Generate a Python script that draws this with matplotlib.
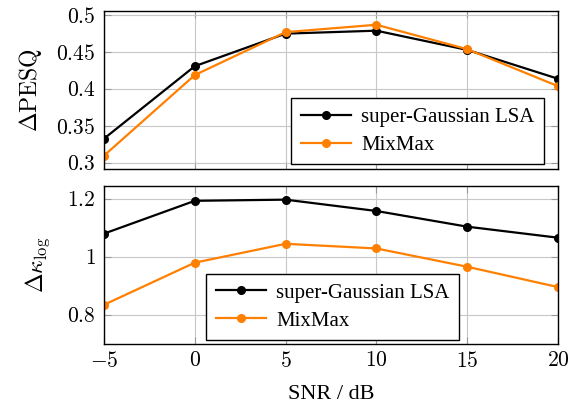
import matplotlib
matplotlib.use("Agg")
import matplotlib.pyplot as plt

snr = [-5, 0, 5, 10, 15, 20]
pesq_lsa = [0.333, 0.431, 0.475, 0.479, 0.453, 0.414]
pesq_mixmax = [0.310, 0.419, 0.477, 0.487, 0.454, 0.404]
kappa_lsa = [1.080, 1.193, 1.197, 1.158, 1.104, 1.066]
kappa_mixmax = [0.835, 0.980, 1.045, 1.029, 0.966, 0.896]
labels = ["super-Gaussian LSA", "MixMax"]

plt.rcParams["mathtext.fontset"] = "cm"
plt.rcParams["font.family"] = ["Liberation Serif", "DejaVu Serif"]

BLACK = "#000000"
ORANGE = "#ff8000"

fig = plt.figure(figsize=(5.79, 4.07), dpi=100)
ax1 = fig.add_axes([0.1796, 0.5848, 0.7841, 0.3889])
ax2 = fig.add_axes([0.1796, 0.1548, 0.7841, 0.3889])


def style(ax, yticks, ylim):
    ax.set_xlim(-5, 20)
    ax.set_ylim(*ylim)
    ax.set_xticks(snr)
    ax.set_yticks(yticks)
    ax.grid(True, color="#c8c8c8", linewidth=0.8)
    ax.set_axisbelow(True)
    ax.tick_params(direction="in", length=5, color="#999999", top=True,
                   right=True, labelsize=15.5, pad=6)
    for s in ax.spines.values():
        s.set_linewidth(1.0)


for ax, a, b in [(ax1, pesq_lsa, pesq_mixmax), (ax2, kappa_lsa, kappa_mixmax)]:
    ax.plot(snr, a, color=BLACK, lw=1.6, marker="o", ms=5.5, label=labels[0])
    ax.plot(snr, b, color=ORANGE, lw=1.6, marker="o", ms=5.5, label=labels[1])

style(ax1, [0.3, 0.35, 0.4, 0.45, 0.5], (0.292, 0.506))
ax1.set_yticklabels([f"${v}$" for v in ["0.3", "0.35", "0.4", "0.45", "0.5"]])
ax1.tick_params(labelbottom=False)
ax1.set_ylabel(r"$\Delta\mathrm{PESQ}$", fontsize=17, labelpad=9)

style(ax2, [0.8, 1.0, 1.2], (0.70, 1.245))
ax2.set_yticklabels(["$0.8$", "$1$", "$1.2$"])
ax2.set_xticklabels([f"${v}$" for v in ["-5", "0", "5", "10", "15", "20"]])
ax2.set_ylabel(r"$\Delta\kappa_{\log}$", fontsize=17, labelpad=11)
ax2.set_xlabel("SNR / dB", fontsize=16, labelpad=9)

for ax, loc, anchor in [(ax1, "lower right", (0.969, 0.03)),
                        (ax2, "lower left", (0.225, 0.025))]:
    leg = ax.legend(loc=loc, bbox_to_anchor=anchor, borderaxespad=0,
                    fontsize=15, fancybox=False, framealpha=1,
                    edgecolor="black", borderpad=0.45, handlelength=2.4,
                    labelspacing=0.4, handletextpad=0.5)
    leg.get_frame().set_linewidth(1.0)

fig.savefig("out.png", dpi=100)
